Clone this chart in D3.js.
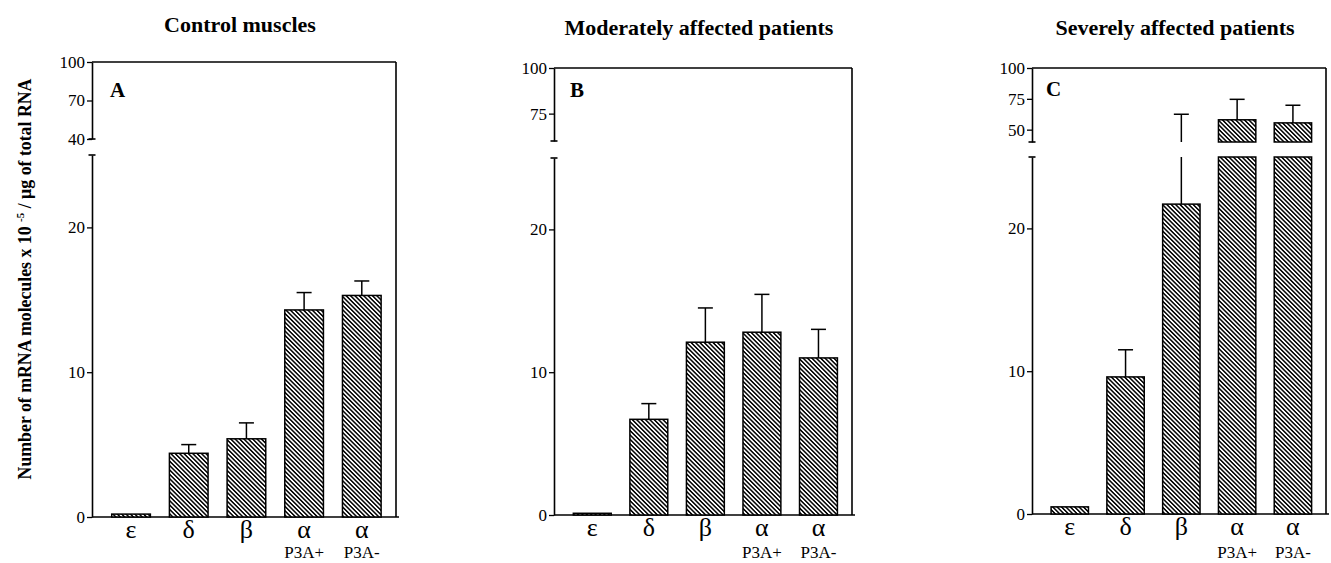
<!DOCTYPE html>
<html>
<head>
<meta charset="utf-8">
<script src="https://cdn.jsdelivr.net/npm/d3@7"></script>
<style>
  body { margin: 0; background: #fff; }
  text { font-family: "Liberation Serif", "Times New Roman", serif; fill: #000; }
</style>
</head>
<body>
<script>
// ---- data ----
const categories = ["ε", "δ", "β", "α", "α"];
const subLabels = ["", "", "", "P3A+", "P3A-"];

// mean number of mRNA molecules x 10^-5 / µg total RNA, and SEM
const controlMeans = [0.2, 4.4, 5.4, 14.3, 15.3];
const controlSem = [0, 0.6, 1.1, 1.2, 1.0];
const moderateMeans = [0.12, 6.7, 12.1, 12.8, 11.0];
const moderateSem = [0, 1.1, 2.4, 2.65, 2.0];
const severeMeans = [0.5, 9.6, 21.7, 58, 55.5];
const severeSem = [0, 1.9, 40.8, 16.6, 14.3];

const titles = ["Control muscles", "Moderately affected patients", "Severely affected patients"];
const letters = ["A", "B", "C"];
const lowerDomain = [0, 25];
const lowerTicks = [0, 10, 20];
const upperDomains = [[40, 100], [60, 100], [40, 100]];
const upperTicks = [[40, 70, 100], [75, 100], [50, 75, 100]];

// ---- layout (pixel geometry of each panel) ----
const layout = [
  { x0: 92, x1: 396, yTop: 62, upperBottom: 139, lowerTop: 155, yZero: 517, titleX: 240, titleY: 32, letterX: 110, letterY: 97 },
  { x0: 554, x1: 852, yTop: 68, upperBottom: 141, lowerTop: 158, yZero: 515, titleX: 699, titleY: 35, letterX: 570, letterY: 97 },
  { x0: 1032, x1: 1326, yTop: 68, upperBottom: 142, lowerTop: 157, yZero: 514, titleX: 1175, titleY: 35, letterX: 1046, letterY: 96 }
];
const series = [
  { means: controlMeans, sem: controlSem },
  { means: moderateMeans, sem: moderateSem },
  { means: severeMeans, sem: severeSem }
];

const svg = d3.select("body").append("svg")
  .attr("width", 1331)
  .attr("height", 563);

// diagonal hatching used for all bars
const hatchGap = 3.1;
svg.append("defs").append("pattern")
  .attr("id", "hatch")
  .attr("patternUnits", "userSpaceOnUse")
  .attr("width", hatchGap)
  .attr("height", hatchGap)
  .attr("patternTransform", "rotate(-45)")
  .call(pt => {
    pt.append("rect").attr("width", hatchGap).attr("height", hatchGap).attr("fill", "#fff");
    pt.append("line")
      .attr("x1", hatchGap / 2).attr("y1", 0)
      .attr("x2", hatchGap / 2).attr("y2", hatchGap)
      .attr("stroke", "#000").attr("stroke-width", 1.5);
  });

function styleAxis(sel) {
  sel.select(".domain").attr("stroke", "#000").attr("stroke-width", 1.6);
  sel.selectAll(".tick line").attr("stroke", "#000").attr("stroke-width", 1.3);
  sel.selectAll(".tick text")
    .style("font-family", "'Liberation Serif', serif")
    .style("font-size", "17px");
}

layout.forEach((p, k) => {
  const g = svg.append("g");
  const means = series[k].means;
  const sem = series[k].sem;

  const x = d3.scaleBand()
    .domain(d3.range(categories.length))
    .range([p.x0, p.x1])
    .paddingInner(0.33)
    .paddingOuter(0.3)
    .align(0.57);
  const yLow = d3.scaleLinear().domain(lowerDomain).range([p.yZero, p.lowerTop]);
  const yUp = d3.scaleLinear().domain(upperDomains[k]).range([p.upperBottom, p.yTop]);

  // title and panel letter
  g.append("text")
    .attr("x", p.titleX).attr("y", p.titleY)
    .attr("text-anchor", "middle")
    .style("font-size", "22px").style("font-weight", "bold")
    .text(titles[k]);
  g.append("text")
    .attr("x", p.letterX).attr("y", p.letterY)
    .style("font-size", "21px").style("font-weight", "bold")
    .text(letters[k]);

  // frame: top and right border, baseline
  g.append("line")
    .attr("x1", p.x0).attr("x2", p.x1).attr("y1", p.yTop).attr("y2", p.yTop)
    .attr("stroke", "#000").attr("stroke-width", 1.6);
  g.append("line")
    .attr("x1", p.x1).attr("x2", p.x1).attr("y1", p.yTop).attr("y2", p.yZero)
    .attr("stroke", "#000").attr("stroke-width", 1.6);
  g.append("line")
    .attr("x1", p.x0).attr("x2", p.x1 + 3).attr("y1", p.yZero).attr("y2", p.yZero)
    .attr("stroke", "#000").attr("stroke-width", 1.6);

  // broken y axis: lower and upper segments
  g.append("g")
    .attr("transform", `translate(${p.x0},0)`)
    .call(d3.axisLeft(yLow).tickValues(lowerTicks).tickSize(5).tickSizeOuter(0).tickPadding(2))
    .call(styleAxis);
  g.append("g")
    .attr("transform", `translate(${p.x0},0)`)
    .call(d3.axisLeft(yUp).tickValues(upperTicks[k]).tickSize(5).tickSizeOuter(0).tickPadding(2))
    .call(styleAxis);
  // small caps at the break
  [yUp.range()[0], yLow.range()[1]].forEach(yy => {
    g.append("line")
      .attr("x1", p.x0 - 3.5).attr("x2", p.x0 + 3.5).attr("y1", yy).attr("y2", yy)
      .attr("stroke", "#000").attr("stroke-width", 1.6);
  });

  // bars
  const bars = g.append("g");
  const rect = (bx, y, h) => bars.append("rect")
    .attr("x", bx).attr("y", y)
    .attr("width", x.bandwidth()).attr("height", Math.max(h, 0))
    .attr("fill", "url(#hatch)")
    .attr("stroke", "#000").attr("stroke-width", 1.5);
  const vline = (cx, ya, yb) => bars.append("line")
    .attr("x1", cx).attr("x2", cx).attr("y1", ya).attr("y2", yb)
    .attr("stroke", "#000").attr("stroke-width", 1.5);
  const cap = (cx, y) => bars.append("line")
    .attr("x1", cx - 7.5).attr("x2", cx + 7.5).attr("y1", y).attr("y2", y)
    .attr("stroke", "#000").attr("stroke-width", 1.5);

  means.forEach((v, i) => {
    const bx = x(i);
    const cx = bx + x.bandwidth() / 2;
    const lowMax = lowerDomain[1];
    if (v <= lowMax) {
      rect(bx, yLow(v), p.yZero - yLow(v));
    } else {
      rect(bx, yLow(lowMax), p.yZero - yLow(lowMax));
      rect(bx, yUp(v), yUp.range()[0] - yUp(v));
    }
    if (sem[i] > 0) {
      const top = v + sem[i];
      if (top <= lowMax) {
        vline(cx, yLow(v), yLow(top));
        cap(cx, yLow(top));
      } else if (v <= lowMax) {
        vline(cx, yLow(v), yLow(lowMax));
        vline(cx, yUp.range()[0], yUp(top));
        cap(cx, yUp(top));
      } else {
        vline(cx, yUp(v), yUp(top));
        cap(cx, yUp(top));
      }
    }
  });

  // category labels
  categories.forEach((c, i) => {
    const cx = x(i) + x.bandwidth() / 2;
    g.append("text")
      .attr("x", cx).attr("y", p.yZero + 21)
      .attr("text-anchor", "middle")
      .style("font-size", "26px")
      .text(c);
    if (subLabels[i]) {
      g.append("text")
        .attr("x", cx).attr("y", 558)
        .attr("text-anchor", "middle")
        .style("font-size", "17px")
        .text(subLabels[i]);
    }
  });
});

// shared y-axis title
const yTitle = svg.append("text")
  .attr("transform", "translate(31,279) rotate(-90)")
  .attr("text-anchor", "middle")
  .style("font-size", "17.8px")
  .style("font-weight", "bold");
yTitle.append("tspan").text("Number of mRNA molecules x 10 ");
yTitle.append("tspan").attr("dy", -7).style("font-size", "11px").text("-5");
yTitle.append("tspan").attr("dy", 7).text(" / µg of total RNA");
</script>
</body>
</html>
